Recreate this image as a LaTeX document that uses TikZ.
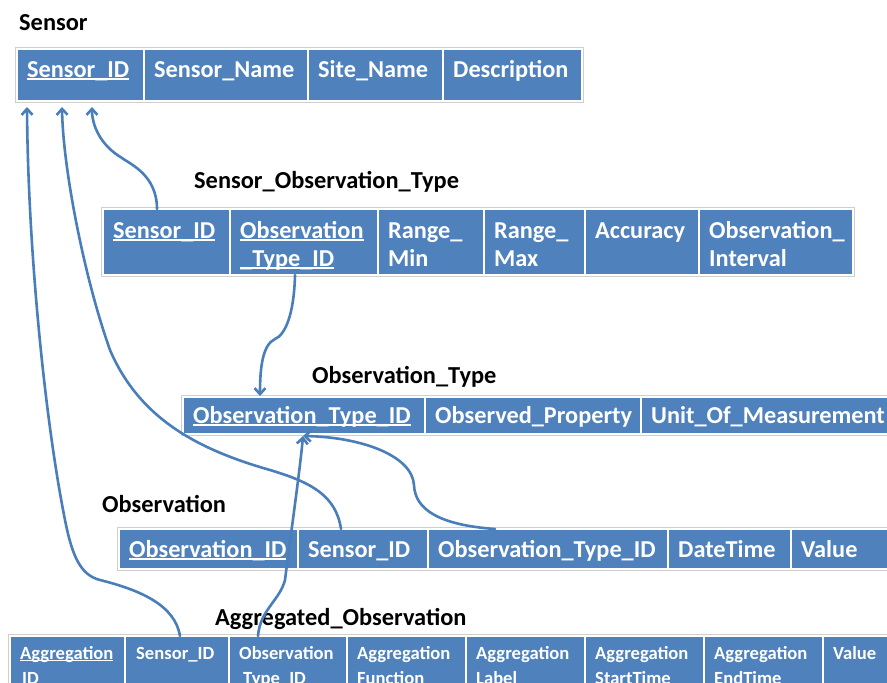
\documentclass[tikz,border=0pt]{standalone}
\usepackage{fontspec}
\setmainfont{Carlito}
\usetikzlibrary{arrows.meta}

\definecolor{erblue}{HTML}{4F81BD}
\definecolor{erline}{HTML}{4A7EBB}
\definecolor{erframe}{HTML}{CFCFCF}

% underline sitting at the level of the underscore
\newcommand\erul[1]{\leavevmode\setbox0\hbox{#1}\rlap{\rule[-0.11em]{\wd0}{0.055em}}\box0}

% \erbox{name}{top}{left}{right}{bottom}
\newcommand\erbox[5]{\node[cellbox, minimum width={(#4-#3)*1pt}, minimum height={(#5-#2)*1pt}] (#1) at (#3,#2) {};}

\tikzset{
  x=1pt, y=-1pt,
  cellbox/.style={anchor=north west, draw=white, line width=1.3pt, fill=erblue, inner sep=0pt, outer sep=0pt},
  celltext/.style={anchor=base west, text=white, inner sep=0pt, font=\bfseries\fontsize{24.3}{29}\selectfont},
  smalltext/.style={celltext, font=\bfseries\fontsize{18.6}{22}\selectfont},
  tabletitle/.style={anchor=base west, inner sep=0pt, font=\bfseries\fontsize{24.4}{29}\selectfont},
  frame/.style={draw=erframe, line width=0.9pt},
  link/.style={draw=erline, line width=2.6pt, line cap=round},
  fk/.style={link, -{Straight Barb[length=6pt,width=11pt]}}
}

\begin{document}
\begin{tikzpicture}
\useasboundingbox (0,0) rectangle (887,683);
\clip (0,0) rectangle (887,683);
\fill[white] (0,0) rectangle (887,683);

% ---------------- Sensor ----------------
\node[tabletitle] (tSensor) at (19,30) {Sensor};
\draw[frame] (15.5,47.5) rectangle (583.5,102.5);
\erbox{s1}{49}{17}{144}{101}
\erbox{s2}{49}{144}{308}{101}
\erbox{s3}{49}{308}{443}{101}
\erbox{s4}{49}{443}{582}{101}
\node[celltext] at ([xshift=10pt,yshift=-28pt]s1.north west) {\erul{Sensor\_ID}};
\node[celltext] at ([xshift=10pt,yshift=-28pt]s2.north west) {Sensor\_Name};
\node[celltext] at ([xshift=10pt,yshift=-28pt]s3.north west) {Site\_Name};
\node[celltext] at ([xshift=10pt,yshift=-28pt]s4.north west) {Description};

% ---------------- Sensor_Observation_Type ----------------
\node[tabletitle] (tSOT) at (194,188) {Sensor\_Observation\_Type};
\draw[frame] (101.5,207.5) rectangle (854.5,276.5);
\erbox{sot1}{209}{103}{230}{275}
\erbox{sot2}{209}{230}{378}{275}
\erbox{sot3}{209}{378}{484}{275}
\erbox{sot4}{209}{484}{585}{275}
\erbox{sot5}{209}{585}{699}{275}
\erbox{sot6}{209}{699}{853}{275}
\node[celltext] at ([xshift=10pt,yshift=-29pt]sot1.north west) {\erul{Sensor\_ID}};
\node[celltext] at ([xshift=10pt,yshift=-29pt]sot2.north west) {\erul{Observation}};
\node[celltext] at ([xshift=10pt,yshift=-57pt]sot2.north west) {\erul{\_Type\_ID}};
\node[celltext] at ([xshift=10pt,yshift=-29pt]sot3.north west) {Range\_};
\node[celltext] at ([xshift=10pt,yshift=-57pt]sot3.north west) {Min};
\node[celltext] at ([xshift=10pt,yshift=-29pt]sot4.north west) {Range\_};
\node[celltext] at ([xshift=10pt,yshift=-57pt]sot4.north west) {Max};
\node[celltext] at ([xshift=10pt,yshift=-29pt]sot5.north west) {Accuracy};
\node[celltext] at ([xshift=10pt,yshift=-29pt]sot6.north west) {Observation\_};
\node[celltext] at ([xshift=10pt,yshift=-57pt]sot6.north west) {Interval};

% ---------------- Observation_Type ----------------
\node[tabletitle] (tOT) at (312,383) {Observation\_Type};
\draw[frame] (181.5,395.5) rectangle (895,435.5);
\erbox{ot1}{397}{183}{425}{434}
\erbox{ot2}{397}{425}{641}{434}
\erbox{ot3}{397}{641}{892}{434}
\node[celltext] at ([xshift=10pt,yshift=-26pt]ot1.north west) {\erul{Observation\_Type\_ID}};
\node[celltext] at ([xshift=10pt,yshift=-26pt]ot2.north west) {Observed\_Property};
\node[celltext] at ([xshift=10pt,yshift=-26pt]ot3.north west) {Unit\_Of\_Measurement};

% ---------------- Observation ----------------
\node[tabletitle] (tO) at (102,512) {Observation};
\draw[frame] (117.5,527.5) rectangle (895,570.5);
\erbox{o1}{529}{119}{298}{569}
\erbox{o2}{529}{298}{428}{569}
\erbox{o3}{529}{428}{668}{569}
\erbox{o4}{529}{668}{791}{569}
\erbox{o5}{529}{791}{892}{569}
\node[celltext] at ([xshift=10pt,yshift=-28pt]o1.north west) {\erul{Observation\_ID}};
\node[celltext] at ([xshift=10pt,yshift=-28pt]o2.north west) {Sensor\_ID};
\node[celltext] at ([xshift=10pt,yshift=-28pt]o3.north west) {Observation\_Type\_ID};
\node[celltext] at ([xshift=10pt,yshift=-28pt]o4.north west) {DateTime};
\node[celltext] at ([xshift=10pt,yshift=-28pt]o5.north west) {Value};

% ---------------- Aggregated_Observation ----------------
\node[tabletitle] (tAO) at (215,625) {Aggregated\_Observation};
\draw[frame] (8.5,634.5) rectangle (895,695);
\erbox{a1}{636}{10}{125}{692}
\erbox{a2}{636}{125}{229}{692}
\erbox{a3}{636}{229}{347}{692}
\erbox{a4}{636}{347}{466}{692}
\erbox{a5}{636}{466}{585}{692}
\erbox{a6}{636}{585}{704}{692}
\erbox{a7}{636}{704}{823}{692}
\erbox{a8}{636}{823}{892}{692}
\node[smalltext] at ([xshift=10pt,yshift=-23pt]a1.north west) {\erul{Aggregation}};
\node[smalltext] at ([xshift=12pt,yshift=-48pt]a1.north west) {ID};
\node[smalltext] at ([xshift=11pt,yshift=-23pt]a2.north west) {Sensor\_ID};
\node[smalltext] at ([xshift=10pt,yshift=-23pt]a3.north west) {Observation};
\node[smalltext] at ([xshift=14pt,yshift=-48pt]a3.north west) {Type\_ID};
\node[smalltext] at ([xshift=10pt,yshift=-23pt]a4.north west) {Aggregation};
\node[smalltext] at ([xshift=10pt,yshift=-48pt]a4.north west) {Function};
\node[smalltext] at ([xshift=10pt,yshift=-23pt]a5.north west) {Aggregation};
\node[smalltext] at ([xshift=10pt,yshift=-48pt]a5.north west) {Label};
\node[smalltext] at ([xshift=10pt,yshift=-23pt]a6.north west) {Aggregation};
\node[smalltext] at ([xshift=10pt,yshift=-48pt]a6.north west) {StartTime};
\node[smalltext] at ([xshift=10pt,yshift=-23pt]a7.north west) {Aggregation};
\node[smalltext] at ([xshift=10pt,yshift=-48pt]a7.north west) {EndTime};
\node[smalltext] at ([xshift=10pt,yshift=-23pt]a8.north west) {Value};

% ---------------- foreign-key links ----------------
% Sensor_Observation_Type.Sensor_ID -> Sensor.Sensor_ID
\draw[fk] ([xshift=-9.5pt]sot1.north)
  .. controls (157,175) and (130,164) .. (122,158)
  .. controls (100,145) and (92,125) .. ([xshift=75pt,yshift=-6pt]s1.south west);
% Observation.Sensor_ID -> Sensor.Sensor_ID
\draw[fk] ([xshift=-22pt]o2.north)
  .. controls (336,495) and (310,482) .. (270,470)
  .. controls (200,450) and (140,420) .. (110,350)
  .. controls (85,280) and (63,170) .. ([xshift=45pt,yshift=-6pt]s1.south west);
% Aggregated_Observation.Sensor_ID -> Sensor.Sensor_ID
\draw[fk] ([xshift=3pt]a2.north)
  .. controls (175,605) and (140,590) .. (100,580)
  .. controls (80,575) and (72,555) .. (65,520)
  .. controls (45,420) and (28,250) .. ([xshift=10pt,yshift=-6pt]s1.south west);
% Sensor_Observation_Type.Observation_Type_ID -> Observation_Type
\draw[fk] ([xshift=-9pt]sot2.south)
  .. controls (294,315) and (285,335) .. (275,339)
  .. controls (262,345) and (260,370) .. ([xshift=-44pt,yshift=1pt]ot1.north);
% Observation.Observation_Type_ID -> Observation_Type
\draw[fk] ([xshift=-53pt]o3.north)
  .. controls (440,525) and (415,510) .. (414,485)
  .. controls (412,455) and (360,437) .. ([xshift=-1pt,yshift=-2pt]ot1.south);
% Aggregated_Observation.Observation_Type_ID -> Observation_Type
\draw[fk] ([xshift=-30pt]a3.north)
  .. controls (260,610) and (280,600) .. (285,580)
  .. controls (290,540) and (300,470) .. ([xshift=-1pt,yshift=-2pt]ot1.south);
\end{tikzpicture}
\end{document}
